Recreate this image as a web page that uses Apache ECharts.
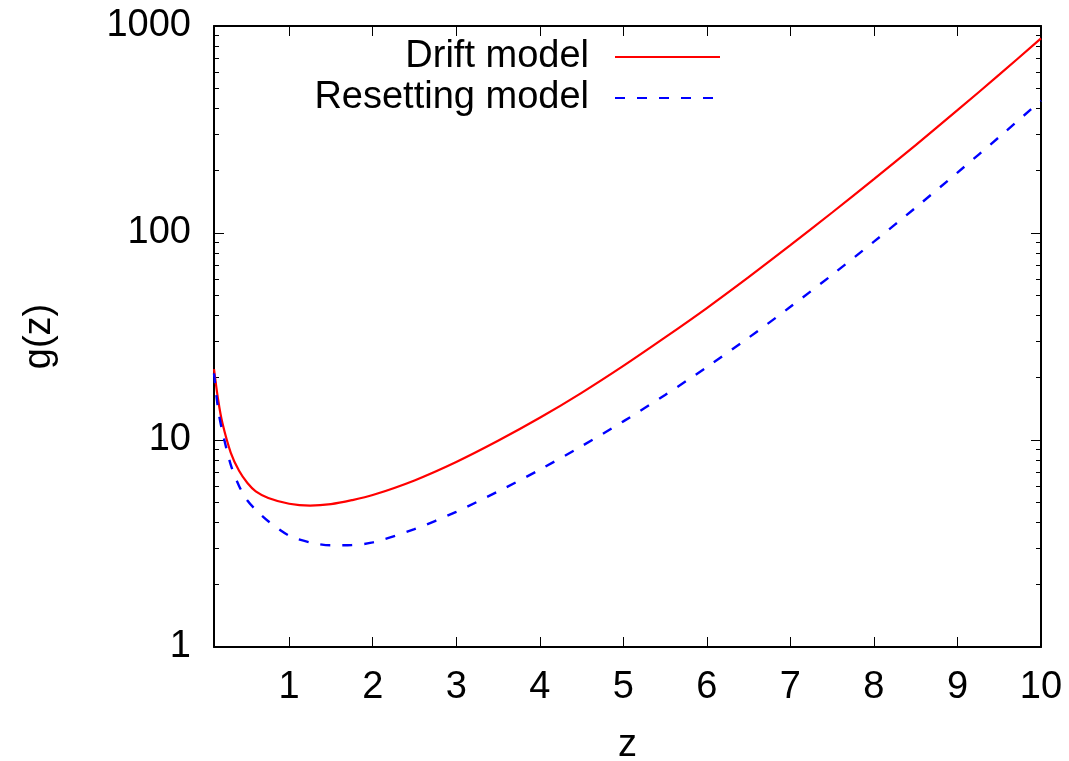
<!DOCTYPE html>
<html>
<head>
<meta charset="utf-8">
<script src="https://cdn.jsdelivr.net/npm/echarts@6/dist/echarts.min.js"></script>
<style>
html,body{margin:0;padding:0;background:#fff;}
#chart{width:1069px;height:761px;}
</style>
</head>
<body>
<div id="chart"></div>
<script>
// ---- data ----
const zValues = [0.1, 0.15, 0.2, 0.3, 0.4, 0.5, 0.6, 0.75, 1.0, 1.25, 1.5, 1.75, 2.0, 2.5, 3.0, 3.5, 4.0, 4.5, 5.0, 5.5, 6.0, 6.5, 7.0, 7.5, 8.0, 8.5, 9.0, 9.5, 10.0];
const driftModel = [22, 15.6, 12.1, 8.7, 7.1, 6.2, 5.65, 5.25, 4.92, 4.82, 4.9, 5.12, 5.42, 6.38, 7.83, 9.91, 12.8, 16.9, 22.8, 31.3, 43.4, 61.2, 87.3, 125.6, 182, 266, 392, 582, 871];
const resettingModel = [21, 14.0, 11.0, 7.6, 6.0, 5.1, 4.6, 4.05, 3.45, 3.2, 3.1, 3.11, 3.2, 3.71, 4.5, 5.64, 7.19, 9.33, 12.3, 16.5, 22.5, 31.2, 44.0, 62.8, 90.8, 132.7, 195.9, 291, 436];
const seriesNames = ['Drift model', 'Resetting model'];
const xTickValues = [1, 2, 3, 4, 5, 6, 7, 8, 9, 10];
const yMajorTicks = [1, 10, 100, 1000];
const yMinorTicks = [2, 3, 4, 5, 6, 7, 8, 9, 20, 30, 40, 50, 60, 70, 80, 90, 200, 300, 400, 500, 600, 700, 800, 900];
const xAxisName = 'z';
const yAxisName = 'g(z)';

const FONT = 'Liberation Sans, Arial, sans-serif';
const FS = 38;

const chart = echarts.init(document.getElementById('chart'), null, {renderer: 'canvas'});

function pairs(xs, ys) { return xs.map((x, i) => [x, ys[i]]); }

const baseX = {type: 'value', min: 0.1, max: 10, gridIndex: 0, splitLine: {show: false}};
const baseY = {type: 'log', logBase: 10, min: 1, max: 1000, gridIndex: 0, splitLine: {show: false}, minorTick: {show: false}, minorSplitLine: {show: false}};

const option = {
  animation: false,
  backgroundColor: '#ffffff',
  textStyle: {fontFamily: FONT},
  grid: {left: 214, right: 28, top: 26, bottom: 114, containLabel: false, outerBoundsMode: 'none'},
  legend: {
    data: seriesNames,
    orient: 'vertical',
    align: 'right',
    right: 348,
    top: 38,
    padding: 0,
    itemGap: 3,
    itemWidth: 105,
    itemHeight: 14,
    itemStyle: {opacity: 0},
    textStyle: {fontFamily: FONT, fontSize: FS, color: '#000', padding: [0, 21, 0, 0]}
  },
  xAxis: [
    Object.assign({}, baseX, {
      position: 'bottom',
      name: xAxisName, nameLocation: 'middle', nameGap: 80,
      nameTextStyle: {fontFamily: FONT, fontSize: FS, color: '#000'},
      axisLine: {show: true, onZero: false, lineStyle: {color: '#000', width: 2}},
      axisTick: {show: true, inside: true, length: 10, customValues: xTickValues, lineStyle: {color: '#000', width: 1}},
      axisLabel: {show: true, customValues: xTickValues, margin: 22, fontFamily: FONT, fontSize: FS, color: '#000'}
    }),
    Object.assign({}, baseX, {
      position: 'top',
      axisLine: {show: true, onZero: false, lineStyle: {color: '#000', width: 2}},
      axisTick: {show: true, inside: true, length: 10, customValues: xTickValues, lineStyle: {color: '#000', width: 1}},
      axisLabel: {show: false}
    })
  ],
  yAxis: [
    Object.assign({}, baseY, {
      position: 'left',
      name: yAxisName, nameLocation: 'middle', nameGap: 155, nameRotate: 90,
      nameTextStyle: {fontFamily: FONT, fontSize: FS, color: '#000'},
      axisLine: {show: true, onZero: false, lineStyle: {color: '#000', width: 2}},
      axisTick: {show: true, inside: true, length: 10, customValues: yMajorTicks, lineStyle: {color: '#000', width: 1}},
      axisLabel: {show: true, customValues: yMajorTicks, margin: 23, fontFamily: FONT, fontSize: FS, color: '#000', formatter: v => String(Math.round(v))}
    }),
    Object.assign({}, baseY, {
      position: 'left',
      axisLine: {show: false},
      axisTick: {show: true, inside: true, length: 5, customValues: yMinorTicks, lineStyle: {color: '#000', width: 1}},
      axisLabel: {show: false}
    }),
    Object.assign({}, baseY, {
      position: 'right',
      axisLine: {show: true, onZero: false, lineStyle: {color: '#000', width: 2}},
      axisTick: {show: true, inside: true, length: 10, customValues: yMajorTicks, lineStyle: {color: '#000', width: 1}},
      axisLabel: {show: false}
    }),
    Object.assign({}, baseY, {
      position: 'right',
      axisLine: {show: false},
      axisTick: {show: true, inside: true, length: 5, customValues: yMinorTicks, lineStyle: {color: '#000', width: 1}},
      axisLabel: {show: false}
    })
  ],
  series: [
    {
      name: seriesNames[0], type: 'line', xAxisIndex: 0, yAxisIndex: 0,
      data: pairs(zValues, driftModel),
      smooth: 0.3, showSymbol: false, symbol: 'none',
      lineStyle: {color: '#ff0000', width: 2.2, type: 'solid'},
      itemStyle: {color: '#ff0000'}
    },
    {
      name: seriesNames[1], type: 'line', xAxisIndex: 0, yAxisIndex: 0,
      data: pairs(zValues, resettingModel),
      smooth: 0.3, showSymbol: false, symbol: 'none',
      lineStyle: {color: '#0000ff', width: 2.4, type: [10, 12]},
      itemStyle: {color: '#0000ff'}
    }
  ]
};
chart.setOption(option);
</script>
</body>
</html>
